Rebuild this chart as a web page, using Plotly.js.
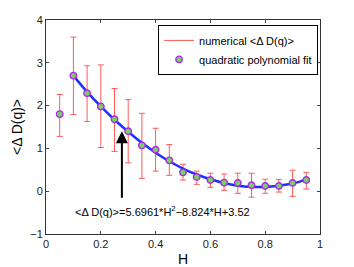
<!DOCTYPE html>
<html><head><meta charset="utf-8">
<script src="https://cdn.plot.ly/plotly-3.0.1.min.js"></script>
<style>html,body{margin:0;padding:0;background:#fff}#plot{width:354px;height:267px}</style>
</head><body><div id="plot"></div>
<script>
const H = [0.05,0.10,0.15,0.20,0.25,0.30,0.35,0.40,0.45,0.50,0.55,0.60,0.65,0.70,0.75,0.80,0.85,0.90,0.95];
const meanD = [1.80,2.70,2.29,1.98,1.68,1.40,1.07,0.97,0.72,0.44,0.33,0.26,0.20,0.19,0.14,0.12,0.12,0.19,0.26];
const errTop = [2.26,3.60,2.93,2.95,2.40,2.14,1.82,1.47,1.09,0.63,0.47,0.42,0.40,0.42,0.42,0.28,0.27,0.49,0.44];
const errBot = [1.28,1.79,1.63,1.02,0.93,0.66,0.30,0.47,0.37,0.26,0.16,0.09,0.02,-0.05,-0.14,-0.05,-0.02,-0.12,0.05];
const fitH = [0.10,0.15,0.20,0.25,0.30,0.35,0.40,0.45,0.50,0.55,0.60,0.65,0.70,0.75,0.80,0.85,0.90,0.95];
const fitD = [2.70,2.32,1.98,1.67,1.39,1.13,0.90,0.70,0.53,0.39,0.28,0.19,0.13,0.10,0.10,0.13,0.18,0.27];
const fitLabel = '<Δ D(q)>=5.6961*H<sup>2</sup>−8.824*H+3.52';

const plus = errTop.map((t,i)=>t-meanD[i]);
const minus = errBot.map((b,i)=>meanD[i]-b);

const red = 'rgb(255,90,90)';
const traces = [
  {x:H, y:meanD, mode:'markers', marker:{opacity:0}, showlegend:false, hoverinfo:'skip',
   error_y:{type:'data', symmetric:false, array:plus, arrayminus:minus, color:red, thickness:1, width:3}},
  {x:[null], y:[null], mode:'lines', line:{color:red, width:1}, name:'numerical <Δ D(q)>'},
  {x:fitH, y:fitD, mode:'lines', line:{color:'rgb(30,50,255)', width:2.5, shape:'spline'}, showlegend:false},
  {x:H, y:meanD, mode:'markers', name:'quadratic polynomial fit',
   marker:{symbol:'circle', size:6.5, color:'rgb(120,210,90)', line:{color:'rgb(170,40,240)', width:1.4}}}
];
const axisFont = {family:'Liberation Sans, Arial, sans-serif', size:11, color:'#222'};
const layout = {
  width:354, height:267,
  margin:{l:46, r:34, t:20, b:33, pad:0},
  paper_bgcolor:'#fff', plot_bgcolor:'#fff',
  font:{family:'Liberation Sans, Arial, sans-serif', size:11, color:'#000'},
  xaxis:{range:[0,1], tickvals:[0,0.2,0.4,0.6,0.8,1], ticktext:['0','0.2','0.4','0.6','0.8','1'],
    ticks:'inside', ticklen:3, tickcolor:'#444', showline:true, linecolor:'#333', linewidth:1, mirror:'ticks',
    showgrid:false, zeroline:false, tickfont:axisFont,
    title:{text:'H', font:{size:14, color:'#000'}, standoff:4}},
  yaxis:{range:[-1,4], tickvals:[-1,0,1,2,3,4], ticktext:['−1','0','1','2','3','4'],
    ticks:'inside', ticklen:3, tickcolor:'#444', showline:true, linecolor:'#333', linewidth:1, mirror:'ticks',
    showgrid:false, zeroline:false, tickfont:axisFont,
    title:{text:'<Δ D(q)>', font:{size:14, color:'#000'}, standoff:4}},
  legend:{x:0.993, y:0.977, xanchor:'right', yanchor:'top', bgcolor:'#fff', bordercolor:'#000', borderwidth:1,
    font:{size:11, color:'#000'}, tracegroupgap:0, itemwidth:30},
  annotations:[
    {x:0.277, y:1.4, ax:0.277, ay:-0.19, axref:'x', ayref:'y', xref:'x', yref:'y', text:'', showarrow:true,
     arrowhead:2, arrowsize:1.2, arrowwidth:2, arrowcolor:'#000'},
    {x:0.425, y:-0.47, xref:'x', yref:'y', text:fitLabel, showarrow:false, font:{size:11, color:'#000'}}
  ],
  showlegend:true
};
Plotly.newPlot('plot', traces, layout, {staticPlot:true, displayModeBar:false});
</script></body></html>
